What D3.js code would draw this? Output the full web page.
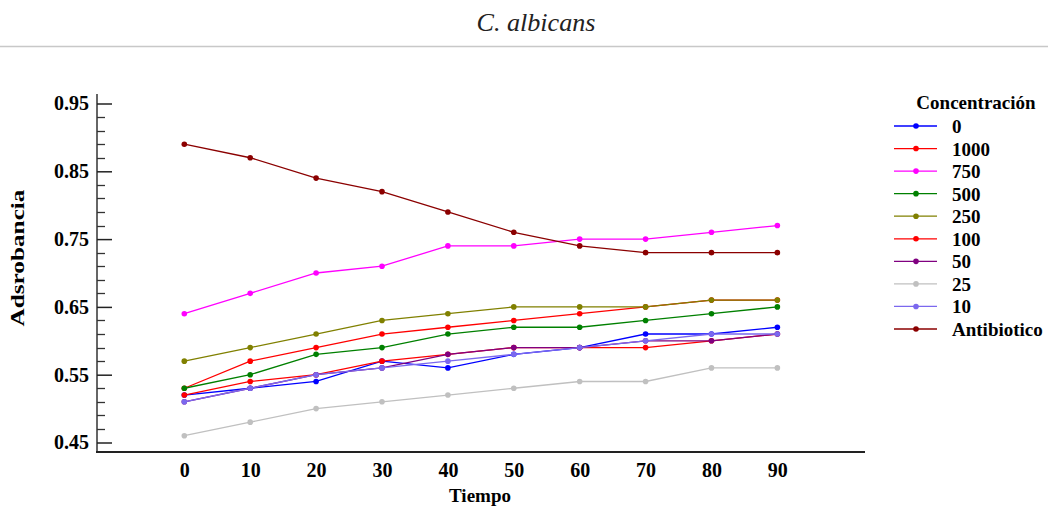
<!DOCTYPE html>
<html lang="es">
<head>
  <meta charset="UTF-8" />
  <title>C. albicans</title>
  <script src="https://cdn.jsdelivr.net/npm/d3@7"></script>
  <style>
    html, body { margin: 0; padding: 0; background: #fff; }
    svg { display: block; }
    text { font-family: "Liberation Serif", "DejaVu Serif", serif; }
  </style>
</head>
<body>
  <script>
    // ----------------------------
    // Data
    // ----------------------------
    const tiempo = [0, 10, 20, 30, 40, 50, 60, 70, 80, 90];
    const seriesNames = ["0", "1000", "750", "500", "250", "100", "50", "25", "10", "Antibiotico"];
    const seriesColors = ["#0000ff", "#ff0000", "#ff00ff", "#008000", "#808000", "#ff0000", "#800080", "#c0c0c0", "#7b68ee", "#8b0000"];
    const s0     = [0.52, 0.53, 0.54, 0.57, 0.56, 0.58, 0.59, 0.61, 0.61, 0.62];
    const s1000  = [0.53, 0.57, 0.59, 0.61, 0.62, 0.63, 0.64, 0.65, 0.66, 0.66];
    const s750   = [0.64, 0.67, 0.70, 0.71, 0.74, 0.74, 0.75, 0.75, 0.76, 0.77];
    const s500   = [0.53, 0.55, 0.58, 0.59, 0.61, 0.62, 0.62, 0.63, 0.64, 0.65];
    const s250   = [0.57, 0.59, 0.61, 0.63, 0.64, 0.65, 0.65, 0.65, 0.66, 0.66];
    const s100   = [0.52, 0.54, 0.55, 0.57, 0.58, 0.59, 0.59, 0.59, 0.60, 0.61];
    const s50    = [0.51, 0.53, 0.55, 0.56, 0.58, 0.59, 0.59, 0.60, 0.60, 0.61];
    const s25    = [0.46, 0.48, 0.50, 0.51, 0.52, 0.53, 0.54, 0.54, 0.56, 0.56];
    const s10    = [0.51, 0.53, 0.55, 0.56, 0.57, 0.58, 0.59, 0.60, 0.61, 0.61];
    const sAntib = [0.89, 0.87, 0.84, 0.82, 0.79, 0.76, 0.74, 0.73, 0.73, 0.73];
    const yTicks = [0.45, 0.55, 0.65, 0.75, 0.85, 0.95];

    const allValues = [s0, s1000, s750, s500, s250, s100, s50, s25, s10, sAntib];
    const series = seriesNames.map((name, i) => ({ name, color: seriesColors[i], values: allValues[i] }));

    // ----------------------------
    // Layout
    // ----------------------------
    const width = 1048, height = 506;
    const svg = d3.select("body").append("svg")
      .attr("width", width)
      .attr("height", height);

    const x = d3.scaleLinear().domain([-13.25, 103.3]).range([97, 865]);
    const y = d3.scaleLinear().domain([0.45, 0.95]).range([442.5, 103.5]);
    const yBottom = 452, yTop = 94;

    // title + separator
    svg.append("text")
      .attr("x", 536).attr("y", 31)
      .attr("text-anchor", "middle")
      .style("font-style", "italic")
      .style("font-size", "25px")
      .attr("textLength", 119).attr("lengthAdjust", "spacingAndGlyphs")
      .attr("fill", "#222")
      .text("C. albicans");
    svg.append("line")
      .attr("x1", 0).attr("x2", width)
      .attr("y1", 46.5).attr("y2", 46.5)
      .attr("stroke", "#c8c8c8").attr("stroke-width", 1.5);

    // ----------------------------
    // Axes
    // ----------------------------
    svg.append("line")
      .attr("x1", 97).attr("x2", 97)
      .attr("y1", yTop).attr("y2", yBottom)
      .attr("stroke", "#666").attr("stroke-width", 2);
    svg.append("line")
      .attr("x1", 96).attr("x2", 865)
      .attr("y1", yBottom).attr("y2", yBottom)
      .attr("stroke", "#222").attr("stroke-width", 2);

    // minor ticks every 0.02
    const minor = d3.range(0.45, 0.9501, 0.02).filter(v => !yTicks.some(t => Math.abs(t - v) < 1e-6));
    svg.append("g").selectAll("line").data(minor).join("line")
      .attr("x1", 97).attr("x2", 105)
      .attr("y1", d => Math.round(y(d)) + 0.5).attr("y2", d => Math.round(y(d)) + 0.5)
      .attr("stroke", "#333").attr("stroke-width", 1.3);

    const yAxis = svg.append("g")
      .attr("transform", "translate(97,0)")
      .call(d3.axisRight(y).tickValues(yTicks).tickSize(15).tickFormat(d3.format(".2f")));
    yAxis.select(".domain").remove();
    yAxis.selectAll(".tick line").attr("stroke", "#222").attr("stroke-width", 1.5);
    yAxis.selectAll(".tick text")
      .attr("x", -8).attr("text-anchor", "end")
      .style("font-family", "'Liberation Serif', serif")
      .style("font-size", "20px").style("font-weight", "bold")
      .attr("fill", "#000");

    const xAxis = svg.append("g")
      .attr("transform", `translate(0,${yBottom})`)
      .call(d3.axisBottom(x).tickValues(tiempo).tickSize(0).tickPadding(11));
    xAxis.select(".domain").remove();
    xAxis.selectAll(".tick text")
      .style("font-family", "'Liberation Serif', serif")
      .style("font-size", "20px").style("font-weight", "bold")
      .attr("fill", "#000");

    svg.append("text")
      .attr("x", 480).attr("y", 502)
      .attr("text-anchor", "middle")
      .style("font-size", "19px").style("font-weight", "bold")
      .text("Tiempo");
    svg.append("text")
      .attr("transform", "translate(24,258) rotate(-90)")
      .attr("text-anchor", "middle")
      .style("font-size", "19px").style("font-weight", "bold")
      .attr("textLength", 137).attr("lengthAdjust", "spacingAndGlyphs")
      .text("Adsrobancia");

    // ----------------------------
    // Lines + markers
    // ----------------------------
    const line = d3.line()
      .x((d, i) => x(tiempo[i]))
      .y(d => y(d));

    const g = svg.append("g");
    series.forEach(s => {
      g.append("path")
        .attr("d", line(s.values))
        .attr("fill", "none")
        .attr("stroke", s.color)
        .attr("stroke-width", 1.3);
      g.append("g").selectAll("circle").data(s.values).join("circle")
        .attr("cx", (d, i) => x(tiempo[i]))
        .attr("cy", d => y(d))
        .attr("r", 2.8)
        .attr("fill", s.color);
    });

    // ----------------------------
    // Legend
    // ----------------------------
    const legend = svg.append("g");
    legend.append("text")
      .attr("x", 976).attr("y", 109)
      .attr("text-anchor", "middle")
      .style("font-size", "19px").style("font-weight", "bold")
      .text("Concentración");
    const ly = d3.scalePoint().domain(seriesNames).range([126, 329]);
    const items = legend.selectAll("g.item").data(series).join("g")
      .attr("class", "item")
      .attr("transform", d => `translate(0,${ly(d.name)})`);
    items.append("line")
      .attr("x1", 894).attr("x2", 937)
      .attr("stroke", d => d.color).attr("stroke-width", 1.3);
    items.append("circle")
      .attr("cx", 916).attr("r", 2.8)
      .attr("fill", d => d.color);
    items.append("text")
      .attr("x", 952).attr("y", 7)
      .style("font-size", "19px").style("font-weight", "bold")
      .text(d => d.name);
  </script>
</body>
</html>
